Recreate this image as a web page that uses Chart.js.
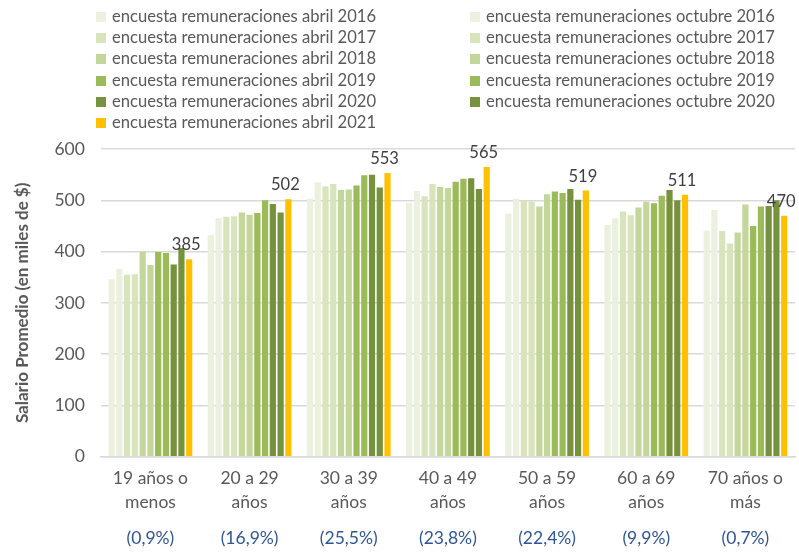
<!DOCTYPE html>
<html lang="es">
<head>
  <meta charset="UTF-8">
  <title>Salario promedio por tramo de edad</title>
  <script src="https://cdn.jsdelivr.net/npm/chart.js"></script>
  <style>
    body { margin: 0; background: #fff; font-family: Lato, "Open Sans", sans-serif; }
    #wrap { position: relative; width: 799px; height: 553px; }
    #legend { position: absolute; top: 6px; left: 96px; width: 700px; }
    .item { position: absolute; font-size: 16.6px; color: #595959; white-space: nowrap; line-height: 21px; }
    .item span.box { display: inline-block; width: 10px; height: 10px; margin-right: 6px; vertical-align: 0px; }
  </style>
</head>
<body>
  <div id="wrap">
    <canvas id="chart" width="799" height="553"></canvas>
    <div id="legend"></div>
  </div>

  <script>
    // categorías (tramos de edad) y su peso en la muestra
    const categorias = [['19 años o', 'menos'], ['20 a 29', 'años'], ['30 a 39', 'años'], ['40 a 49', 'años'], ['50 a 59', 'años'], ['60 a 69', 'años'], ['70 años o', 'más']];
    const participacion = ['(0,9%)', '(16,9%)', '(25,5%)', '(23,8%)', '(22,4%)', '(9,9%)', '(0,7%)'];

    // salario promedio (miles de $) por encuesta
    const abril2016 = [346, 432, 503, 495, 474, 452, 441];
    const octubre2016 = [366, 465, 535, 518, 503, 465, 481];
    const abril2017 = [355, 468, 527, 508, 499, 478, 440];
    const octubre2017 = [356, 469, 532, 532, 497, 471, 416];
    const abril2018 = [400, 476, 520, 526, 488, 486, 437];
    const octubre2018 = [374, 472, 521, 524, 512, 497, 492];
    const abril2019 = [399, 475, 529, 536, 517, 494, 450];
    const octubre2019 = [397, 500, 549, 542, 514, 509, 488];
    const abril2020 = [375, 493, 550, 543, 522, 520, 489];
    const octubre2020 = [407, 476, 525, 522, 501, 500, 500];
    const abril2021 = [385, 502, 553, 565, 519, 511, 470];

    const yTicks = [0, 100, 200, 300, 400, 500, 600];

    const verde = { 2016: '#EBF1DE', 2017: '#D8E4BC', 2018: '#C4D79B', 2019: '#9BBB59', 2020: '#76923C', 2021: '#FFC000' };

    const series = [
      { label: 'encuesta remuneraciones abril 2016', data: abril2016, color: verde[2016] },
      { label: 'encuesta remuneraciones octubre 2016', data: octubre2016, color: verde[2016] },
      { label: 'encuesta remuneraciones abril 2017', data: abril2017, color: verde[2017] },
      { label: 'encuesta remuneraciones octubre 2017', data: octubre2017, color: verde[2017] },
      { label: 'encuesta remuneraciones abril 2018', data: abril2018, color: verde[2018] },
      { label: 'encuesta remuneraciones octubre 2018', data: octubre2018, color: verde[2018] },
      { label: 'encuesta remuneraciones abril 2019', data: abril2019, color: verde[2019] },
      { label: 'encuesta remuneraciones octubre 2019', data: octubre2019, color: verde[2019] },
      { label: 'encuesta remuneraciones abril 2020', data: abril2020, color: verde[2020] },
      { label: 'encuesta remuneraciones octubre 2020', data: octubre2020, color: verde[2020] },
      { label: 'encuesta remuneraciones abril 2021', data: abril2021, color: verde[2021] }
    ];

    // leyenda en dos columnas: abril a la izquierda, octubre a la derecha
    const legend = document.getElementById('legend');
    series.forEach((s, i) => {
      const div = document.createElement('div');
      div.className = 'item';
      div.style.left = (i % 2 === 0 ? 0 : 374) + 'px';
      div.style.top = (Math.floor(i / 2) * 21.2) + 'px';
      div.innerHTML = `<span class="box" style="background:${s.color}"></span>${s.label}`;
      legend.appendChild(div);
    });

    // etiqueta de valor solo para abril 2021
    const etiquetas = {
      id: 'etiquetas',
      afterDatasetsDraw(chart) {
        const ctx = chart.ctx;
        const idx = chart.data.datasets.length - 1;
        const meta = chart.getDatasetMeta(idx);
        ctx.save();
        ctx.font = '16.5px Lato, "Open Sans", sans-serif';
        ctx.fillStyle = '#404040';
        ctx.textAlign = 'center';
        ctx.textBaseline = 'bottom';
        meta.data.forEach((bar, i) => {
          ctx.fillText(chart.data.datasets[idx].data[i], bar.x - 3, bar.y - 6);
        });
        ctx.restore();
      }
    };

    new Chart(document.getElementById('chart'), {
      type: 'bar',
      data: {
        labels: categorias,
        datasets: series.map(s => ({
          label: s.label,
          data: s.data,
          backgroundColor: s.color,
          borderWidth: 0,
          categoryPercentage: 0.86,
          barPercentage: 0.8
        }))
      },
      options: {
        responsive: false,
        animation: false,
        layout: { padding: { top: 149, right: 4, left: 6, bottom: 0 } },
        plugins: { legend: { display: false }, tooltip: { enabled: false } },
        scales: {
          x: {
            grid: { display: false, drawTicks: false },
            border: { color: '#D9D9D9', width: 1.5 },
            ticks: { color: '#595959', font: { family: 'Lato', size: 17.5, lineHeight: 1.35 }, padding: 10, maxRotation: 0 }
          },
          x2: {
            type: 'category',
            labels: participacion,
            position: 'bottom',
            grid: { display: false, drawTicks: false },
            border: { display: false },
            ticks: { color: '#2F5597', font: { family: 'Lato', size: 17.5 }, padding: 4, maxRotation: 0 }
          },
          y: {
            min: yTicks[0],
            max: yTicks[yTicks.length - 1],
            afterBuildTicks: axis => { axis.ticks = yTicks.map(v => ({ value: v })); },
            grid: { color: '#D9D9D9', lineWidth: 1.5, drawTicks: false },
            border: { display: false },
            ticks: { color: '#595959', font: { family: 'Lato', size: 17.5 }, padding: 16 },
            title: { display: true, text: 'Salario Promedio (en miles de $)', color: '#595959', font: { family: 'Lato', size: 17, weight: 'bold' }, padding: 6 }
          }
        }
      },
      plugins: [etiquetas]
    });
  </script>
</body>
</html>
